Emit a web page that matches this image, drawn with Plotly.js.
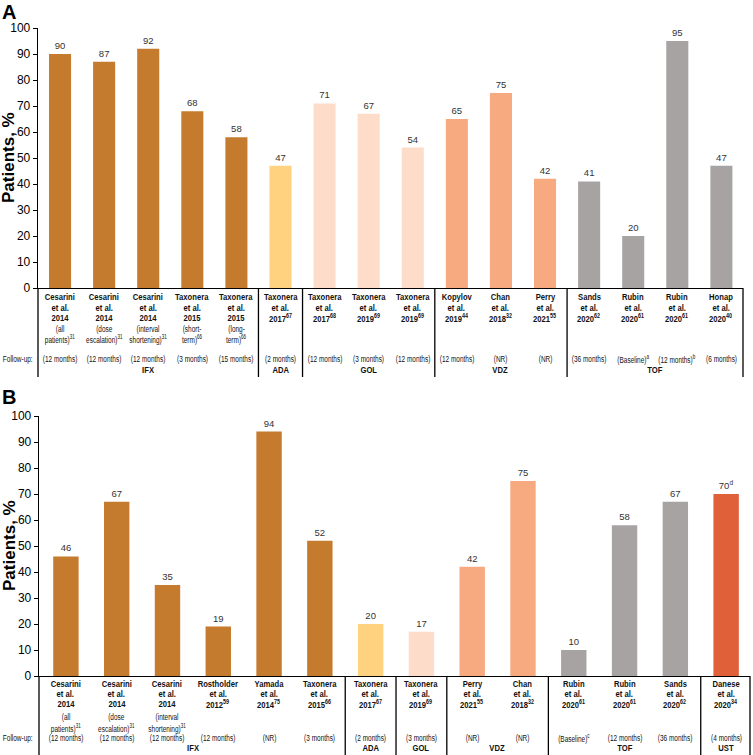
<!DOCTYPE html>
<html><head><meta charset="utf-8">
<script src="https://cdn.plot.ly/plotly-3.0.1.min.js"></script>
<style>html,body{margin:0;padding:0;background:#fff}#chart{width:753px;height:755px}</style>
</head><body><div id="chart"></div>
<script>
// ---------- Panel A data ----------
const A_values = [90,87,92,68,58,47,71,67,54,65,75,42,41,20,95,47];
const A_authors = ['Cesarini','Cesarini','Cesarini','Taxonera','Taxonera','Taxonera','Taxonera','Taxonera','Taxonera','Kopylov','Chan','Perry','Sands','Rubin','Rubin','Honap'];
const A_years = ['2014','2014','2014','2015','2015','2017','2017','2019','2019','2019','2018','2021','2020','2020','2020','2020'];
const A_yearRefs = ['','','','','','67','68','69','69','44','32','55','62','61','61','40'];
const A_desc1 = ['(all','(dose','(interval','(short-','(long-','','','','','','','','','','',''];
const A_desc2 = ['patients)','escalation)','shortening)','term)','term)','','','','','','','','','','',''];
const A_descRefs = ['31','31','31','66','66','','','','','','','','','','',''];
const A_followUp = ['(12 months)','(12 months)','(12 months)','(3 months)','(15 months)','(2 months)','(12 months)','(3 months)','(12 months)','(12 months)','(NR)','(NR)','(36 months)','(Baseline)','(12 months)','(6 months)'];
const A_followRefs = ['','','','','','','','','','','','','','a','b',''];
const A_drugs = ['IFX','IFX','IFX','IFX','IFX','ADA','GOL','GOL','GOL','VDZ','VDZ','VDZ','TOF','TOF','TOF','TOF'];

// ---------- Panel B data ----------
const B_values = [46,67,35,19,94,52,20,17,42,75,10,58,67,70];
const B_valueRefs = ['','','','','','','','','','','','','','d'];
const B_authors = ['Cesarini','Cesarini','Cesarini','Rostholder','Yamada','Taxonera','Taxonera','Taxonera','Perry','Chan','Rubin','Rubin','Sands','Danese'];
const B_years = ['2014','2014','2014','2012','2014','2015','2017','2019','2021','2018','2020','2020','2020','2020'];
const B_yearRefs = ['','','','59','75','66','67','69','55','32','61','61','62','34'];
const B_desc1 = ['(all','(dose','(interval','','','','','','','','','','',''];
const B_desc2 = ['patients)','escalation)','shortening)','','','','','','','','','','',''];
const B_descRefs = ['31','31','31','','','','','','','','','','',''];
const B_followUp = ['(12 months)','(12 months)','(12 months)','(12 months)','(NR)','(3 months)','(2 months)','(3 months)','(NR)','(NR)','(Baseline)','(12 months)','(36 months)','(4 months)'];
const B_followRefs = ['','','','','','','','','','','c','','',''];
const B_drugs = ['IFX','IFX','IFX','IFX','IFX','IFX','ADA','GOL','VDZ','VDZ','TOF','TOF','TOF','UST'];

const drugColors = {IFX:'#C47B2D', ADA:'#FFD280', GOL:'#FDDCC9', VDZ:'#F7A97F', TOF:'#A8A3A3', UST:'#E0603A'};

// ---------- layout helpers ----------
const W = 753, H = 755;
const py = p => 1 - p / H;
const FONT = '"Liberation Sans", Arial, sans-serif';
const sup = r => r ? '<sup>' + r + '</sup>' : '';
const BOLD_SIZE = 9, REG_SIZE = 9;

const annotations = [];
const shapes = [];

function buildPanel(cfg) {
  const n = cfg.values.length;
  const xr = cfg.xref;
  for (let i = 0; i < n; i++) {
    const rows = [
      ['<b>' + cfg.authors[i] + '</b>', cfg.rows[0], BOLD_SIZE],
      ['<b>et al.</b>', cfg.rows[1], BOLD_SIZE],
      ['<b>' + cfg.years[i] + sup(cfg.yearRefs[i]) + '</b>', cfg.rows[2], BOLD_SIZE]
    ];
    if (cfg.desc1[i]) rows.push([cfg.desc1[i], cfg.rows[3], REG_SIZE]);
    if (cfg.desc2[i]) rows.push([cfg.desc2[i] + sup(cfg.descRefs[i]), cfg.rows[4], REG_SIZE]);
    rows.push([cfg.followUp[i] + sup(cfg.followRefs[i]), cfg.rows[5], REG_SIZE]);
    rows.forEach(([t, y, s]) => annotations.push({
      x: i, xref: xr, y: py(y), yref: 'paper', text: t, showarrow: false,
      xanchor: 'center', yanchor: 'middle', font: {family: FONT, size: s, color: '#111'}
    }));
  }
  // follow-up label
  annotations.push({x: 18 / W, xref: 'paper', y: py(cfg.rows[5]), yref: 'paper', text: 'Follow-up:',
    showarrow: false, xanchor: 'center', yanchor: 'middle', font: {family: FONT, size: REG_SIZE, color: '#111'}});
  // groups
  let start = 0;
  for (let i = 1; i <= n; i++) {
    if (i === n || cfg.drugs[i] !== cfg.drugs[start]) {
      annotations.push({x: (start + i - 1) / 2, xref: xr, y: py(cfg.rows[6]), yref: 'paper',
        text: '<b>' + cfg.drugs[start] + '</b>', showarrow: false, xanchor: 'center', yanchor: 'middle',
        font: {family: FONT, size: BOLD_SIZE, color: '#111'}});
      if (i < n) shapes.push({type: 'line', xref: xr, x0: i - 0.5, x1: i - 0.5, yref: 'paper',
        y0: py(cfg.axisY), y1: py(cfg.tableBottom), line: {color: '#000', width: 1.3}});
      start = i;
    }
  }
  // left and right borders of table
  [0, 1].forEach(d => shapes.push({type: 'line', xref: xr + ' domain', x0: d, x1: d, yref: 'paper',
    y0: py(cfg.axisY), y1: py(cfg.tableBottom), line: {color: '#000', width: 1.3}}));
  // panel letter
  annotations.push({x: 0, xref: 'paper', y: py(cfg.letterY), yref: 'paper', text: '<b>' + cfg.letter + '</b>',
    showarrow: false, xanchor: 'left', yanchor: 'middle', font: {family: FONT, size: 20, color: '#000'}});
  // y title
  annotations.push({x: 9 / W, xref: 'paper', y: py((cfg.axisY + cfg.topY) / 2), yref: 'paper',
    text: '<b>Patients, %</b>', textangle: -90, showarrow: false, xanchor: 'center', yanchor: 'middle',
    font: {family: FONT, size: 17, color: '#000'}});
}

buildPanel({values: A_values, authors: A_authors, years: A_years, yearRefs: A_yearRefs, desc1: A_desc1,
  desc2: A_desc2, descRefs: A_descRefs, followUp: A_followUp, followRefs: A_followRefs, drugs: A_drugs,
  xref: 'x', rows: [297, 308, 318, 329, 339, 359, 370], axisY: 288, topY: 28, tableBottom: 377,
  letter: 'A', letterY: 12});
buildPanel({values: B_values, authors: B_authors, years: B_years, yearRefs: B_yearRefs, desc1: B_desc1,
  desc2: B_desc2, descRefs: B_descRefs, followUp: B_followUp, followRefs: B_followRefs, drugs: B_drugs,
  xref: 'x2', rows: [684, 694, 704, 717, 728, 738, 748], axisY: 676, topY: 416, tableBottom: 755,
  letter: 'B', letterY: 397});

const traceA = {
  type: 'bar', x: A_values.map((_, i) => i), y: A_values, xaxis: 'x', yaxis: 'y', width: 0.5,
  marker: {color: A_drugs.map(d => drugColors[d])},
  text: A_values.map(String), textposition: 'outside', constraintext: 'none', cliponaxis: false,
  textfont: {family: FONT, size: 9.5, color: '#333'}, hoverinfo: 'none'
};
const traceB = {
  type: 'bar', x: B_values.map((_, i) => i), y: B_values, xaxis: 'x2', yaxis: 'y2', width: 0.5,
  marker: {color: B_drugs.map(d => drugColors[d])},
  text: B_values.map((v, i) => v + sup(B_valueRefs[i])), textposition: 'outside', constraintext: 'none', cliponaxis: false,
  textfont: {family: FONT, size: 9.5, color: '#333'}, hoverinfo: 'none'
};

const yax = (dom, anchor) => ({domain: dom, anchor: anchor, range: [0, 100], dtick: 10, tick0: 0,
  showgrid: false, zeroline: false, showline: true, linecolor: '#000', linewidth: 1.3,
  ticks: 'outside', ticklen: 4, tickcolor: '#000', tickfont: {family: FONT, size: 12, color: '#000'}, fixedrange: true});
const xax = (dom, range, anchor) => ({domain: dom, anchor: anchor, range: range, showgrid: false, zeroline: false,
  showline: true, linecolor: '#000', linewidth: 1.3, ticks: '', showticklabels: false, fixedrange: true});

const layout = {
  width: W, height: H, margin: {l: 0, r: 0, t: 0, b: 0}, showlegend: false,
  paper_bgcolor: '#fff', plot_bgcolor: '#fff',
  xaxis: xax([38 / W, 743 / W], [-0.5, 15.49], 'y'),
  yaxis: yax([py(288), py(28)], 'x'),
  xaxis2: xax([39 / W, 750 / W], [-0.53, 13.47], 'y2'),
  yaxis2: yax([py(676), py(416)], 'x2'),
  annotations: annotations, shapes: shapes
};

Plotly.newPlot('chart', [traceA, traceB], layout, {staticPlot: true}).then(gd => {
  // horizontally condense the small table texts, like the narrow type of the original
  gd.querySelectorAll('.annotation-text').forEach(t => {
    const fs = parseFloat(t.style.fontSize);
    if (fs < 10) {
      const bold = t.innerHTML.indexOf('font-weight') >= 0 || t.innerHTML.indexOf('<b') >= 0;
      t.style.transformBox = 'fill-box';
      t.style.transformOrigin = 'center';
      t.style.transform = 'scaleX(' + (bold ? 0.85 : 0.72) + ')';
    }
  });
});
</script></body></html>
